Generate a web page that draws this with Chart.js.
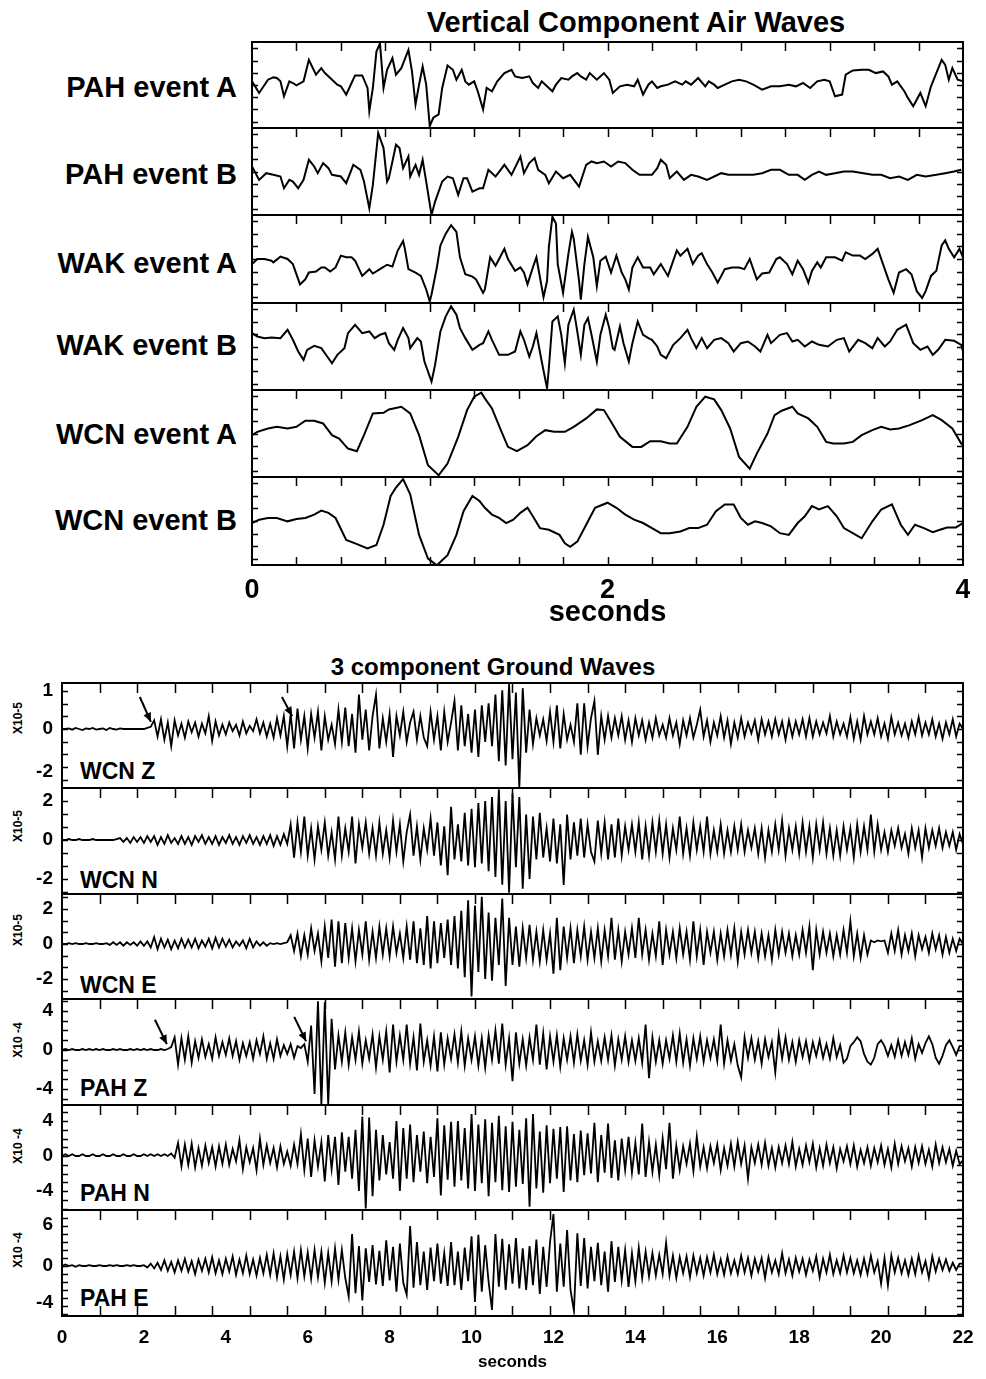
<!DOCTYPE html>
<html>
<head>
<meta charset="utf-8">
<script src="https://cdn.jsdelivr.net/npm/chart.js@4.4.0/dist/chart.umd.min.js"></script>
<style>
body { margin: 0; background: #fff; }
#page { position: relative; width: 986px; height: 1379px; background: #fff; overflow: hidden;
        font-family: 'Liberation Sans', Arial, Helvetica, sans-serif; font-weight: bold; color: #000; }
#page canvas { position: absolute; }
.t { position: absolute; white-space: nowrap; line-height: 1; }
.big { font-size: 29px; }
.name { font-size: 29px; right: 749px; }
.gname { font-size: 23px; left: 80px; }
.mult { font-size: 12px; left: 18px; transform: translate(-50%, -50%) rotate(-90deg); }
</style>
</head>
<body>
<div id="page">
  <div class="t big" style="left:636px;top:8px;transform:translateX(-50%)">Vertical Component Air Waves</div>
  <div class="t name" style="top:73px">PAH event A</div>
  <div class="t name" style="top:160px">PAH event B</div>
  <div class="t name" style="top:249px">WAK event A</div>
  <div class="t name" style="top:331px">WAK event B</div>
  <div class="t name" style="top:420px">WCN event A</div>
  <div class="t name" style="top:506px">WCN event B</div>

  <div class="t" style="font-size:24px;left:493px;top:655px;transform:translateX(-50%)">3 component Ground Waves</div>
  <div class="t gname" style="top:760px">WCN Z</div>
  <div class="t gname" style="top:869px">WCN N</div>
  <div class="t gname" style="top:974px">WCN E</div>
  <div class="t gname" style="top:1077px">PAH Z</div>
  <div class="t gname" style="top:1182px">PAH N</div>
  <div class="t gname" style="top:1287px">PAH E</div>
  <div class="t mult" style="top:718px">X10-5</div>
  <div class="t mult" style="top:826px">X10-5</div>
  <div class="t mult" style="top:930px">X10-5</div>
  <div class="t mult" style="top:1040px">X10 -4</div>
  <div class="t mult" style="top:1146px">X10 -4</div>
  <div class="t mult" style="top:1250px">X10 -4</div>
</div>
<script>
// ---------- air waves (time in s, amplitude in relative counts) ----------
const pahA_t = [0.00,0.04,0.09,0.12,0.14,0.16,0.18,0.21,0.23,0.25,0.29,0.32,0.36,0.39,0.41,0.44,0.48,0.50,0.53,0.56,0.58,0.62,0.65,0.66,0.68,0.70,0.72,0.74,0.76,0.79,0.81,0.84,0.88,0.90,0.92,0.94,0.96,0.98,1.00,1.02,1.05,1.07,1.10,1.13,1.15,1.18,1.20,1.22,1.25,1.27,1.30,1.32,1.35,1.38,1.42,1.46,1.48,1.52,1.56,1.58,1.61,1.63,1.69,1.71,1.74,1.78,1.80,1.83,1.85,1.88,1.90,1.94,1.98,2.01,2.03,2.07,2.11,2.15,2.17,2.20,2.23,2.25,2.28,2.30,2.34,2.38,2.42,2.44,2.47,2.51,2.55,2.57,2.60,2.62,2.66,2.70,2.74,2.78,2.82,2.87,2.92,2.97,3.02,3.06,3.10,3.14,3.18,3.22,3.25,3.28,3.32,3.34,3.38,3.43,3.47,3.51,3.55,3.58,3.60,3.63,3.67,3.69,3.72,3.76,3.79,3.82,3.85,3.88,3.90,3.92,3.94,3.97,4.00];
const pahA_v = [11,-24,16,23,21,11,-34,11,6,-1,11,76,31,51,36,21,1,-4,-29,6,29,29,-9,-79,-9,101,126,-9,46,81,31,51,106,41,-59,1,56,1,-124,-99,-89,-9,59,46,16,46,11,1,11,-19,-74,-9,-19,11,36,46,26,21,26,6,-9,11,-19,1,21,16,26,36,26,16,36,16,36,16,-24,-4,1,-4,16,-29,1,11,-9,-4,1,11,1,11,1,21,-4,11,1,-9,1,11,16,11,1,-14,-4,-4,1,-4,6,-9,11,16,11,-34,-29,31,44,46,46,36,41,26,1,11,-19,-39,-64,-24,-64,-4,36,76,61,16,51,16,11];

const pahB_t = [0.00,0.04,0.08,0.12,0.16,0.18,0.21,0.23,0.26,0.29,0.32,0.35,0.37,0.40,0.43,0.45,0.50,0.53,0.57,0.61,0.63,0.66,0.68,0.71,0.74,0.76,0.77,0.81,0.83,0.85,0.88,0.89,0.92,0.94,0.96,0.98,1.01,1.03,1.07,1.10,1.13,1.16,1.19,1.21,1.24,1.28,1.30,1.33,1.37,1.42,1.46,1.51,1.53,1.56,1.59,1.61,1.65,1.67,1.71,1.75,1.79,1.84,1.88,1.91,1.94,1.98,2.02,2.06,2.10,2.14,2.18,2.25,2.28,2.30,2.33,2.35,2.39,2.43,2.47,2.51,2.56,2.60,2.64,2.68,2.71,2.77,2.82,2.87,2.92,2.97,3.02,3.07,3.11,3.15,3.19,3.23,3.28,3.33,3.38,3.44,3.49,3.54,3.59,3.64,3.69,3.74,3.79,3.85,3.90,3.95,3.99];
const pahB_v = [15,-25,-5,-10,-15,-50,-25,-30,-50,-25,35,15,-5,25,10,-10,-15,-35,20,5,-30,-110,-40,115,70,-30,-20,80,70,10,45,-15,20,-10,35,-30,-130,-90,-30,-15,-20,-70,-20,-20,-60,-50,-50,5,-15,20,-10,45,-5,25,40,5,-10,-35,0,-20,-10,-45,20,30,25,30,15,30,25,5,-10,-10,10,35,20,-20,0,-25,-10,-15,-25,-15,-5,-10,-10,-10,-10,-5,5,5,-10,-10,-25,-10,0,-10,-5,0,0,-5,-10,-10,-20,-15,-25,-10,-15,-10,-5,0,5];

const wakA_t = [0.00,0.03,0.07,0.11,0.12,0.16,0.20,0.23,0.27,0.30,0.32,0.36,0.39,0.41,0.44,0.47,0.50,0.53,0.56,0.58,0.62,0.66,0.68,0.72,0.76,0.79,0.82,0.85,0.86,0.88,0.92,0.95,0.98,1.00,1.01,1.04,1.06,1.09,1.12,1.15,1.17,1.20,1.24,1.26,1.28,1.30,1.31,1.34,1.37,1.39,1.42,1.44,1.48,1.51,1.53,1.55,1.58,1.60,1.61,1.64,1.66,1.67,1.69,1.71,1.72,1.75,1.78,1.80,1.81,1.84,1.85,1.87,1.89,1.92,1.94,1.96,1.99,2.02,2.05,2.08,2.10,2.12,2.14,2.17,2.20,2.24,2.26,2.30,2.34,2.35,2.39,2.41,2.45,2.48,2.51,2.53,2.56,2.59,2.62,2.66,2.70,2.74,2.77,2.80,2.84,2.87,2.91,2.95,2.97,3.01,3.04,3.07,3.10,3.13,3.15,3.18,3.20,3.23,3.28,3.32,3.34,3.38,3.42,3.45,3.49,3.52,3.55,3.58,3.61,3.64,3.68,3.71,3.74,3.77,3.79,3.82,3.85,3.88,3.90,3.92,3.95,3.98,4.00];
const wakA_v = [-15,0,0,-5,-10,7,0,-15,-75,-60,-40,-37,-25,-25,-37,-25,10,5,5,-5,-50,-30,-43,-30,-17,-22,25,53,30,-30,-40,-50,-90,-125,-105,-25,40,75,100,80,5,-45,-52,-60,-80,-100,-90,5,-20,0,30,0,-35,-25,-40,-75,-25,5,-25,-113,-65,35,125,105,-15,-100,15,80,60,-65,-120,-15,65,5,-80,-5,7,-40,10,-40,-60,-90,-25,5,-25,-25,-45,-15,-50,-35,25,10,30,-15,10,17,-15,-40,-70,-30,-25,-25,-30,0,-60,-43,-40,0,5,-15,-45,-5,-30,-70,-35,-10,-25,5,5,-5,20,10,10,0,15,30,-15,-60,-100,-40,-30,-45,-95,-115,-95,-50,-35,40,55,30,5,30,5];

const wakB_t = [0.00,0.03,0.07,0.11,0.16,0.20,0.23,0.26,0.29,0.31,0.35,0.39,0.43,0.45,0.48,0.52,0.54,0.58,0.62,0.66,0.69,0.72,0.75,0.77,0.80,0.82,0.85,0.88,0.89,0.93,0.95,0.97,1.01,1.03,1.06,1.09,1.12,1.15,1.17,1.20,1.24,1.28,1.30,1.33,1.35,1.39,1.44,1.48,1.51,1.53,1.56,1.58,1.60,1.63,1.66,1.67,1.69,1.72,1.74,1.76,1.78,1.81,1.83,1.85,1.87,1.89,1.91,1.94,1.96,1.99,2.01,2.03,2.04,2.07,2.09,2.12,2.14,2.17,2.20,2.23,2.25,2.28,2.30,2.33,2.37,2.41,2.45,2.47,2.50,2.53,2.56,2.60,2.64,2.68,2.71,2.75,2.79,2.83,2.86,2.90,2.92,2.97,3.01,3.04,3.07,3.11,3.15,3.19,3.24,3.29,3.33,3.36,3.41,3.45,3.49,3.52,3.56,3.59,3.63,3.68,3.72,3.76,3.80,3.83,3.86,3.90,3.95,3.99,4.00];
const wakB_v = [40,30,25,27,25,50,20,-15,-40,-10,2,-5,-35,-50,-25,-5,40,65,40,45,25,35,40,10,-10,20,55,25,-5,25,15,-45,-105,-55,45,90,120,95,55,25,-10,5,10,45,20,-25,-25,-15,45,20,-30,0,40,-45,-125,-65,75,90,35,-50,65,110,45,-25,65,85,35,-45,35,95,55,-5,-10,60,10,-45,10,75,35,25,20,0,-25,-35,5,25,50,25,-5,25,-5,20,25,10,-15,10,15,0,-15,35,10,35,40,15,20,0,15,5,0,20,25,-15,20,10,-5,25,0,15,50,65,10,-10,0,-25,-10,20,17,5,-15];

const wcnA_t = [0.00,0.03,0.09,0.14,0.20,0.25,0.30,0.35,0.40,0.45,0.49,0.54,0.59,0.63,0.68,0.74,0.77,0.84,0.89,0.94,0.99,1.05,1.10,1.16,1.21,1.25,1.29,1.31,1.35,1.40,1.44,1.49,1.55,1.60,1.65,1.70,1.76,1.81,1.88,1.94,1.98,2.02,2.07,2.14,2.19,2.24,2.30,2.35,2.39,2.45,2.50,2.55,2.60,2.64,2.69,2.74,2.80,2.84,2.90,2.94,2.98,3.04,3.07,3.13,3.18,3.23,3.27,3.33,3.38,3.43,3.49,3.54,3.59,3.64,3.70,3.77,3.83,3.88,3.94,3.99,4.00];
const wcnA_v = [-5,5,15,20,15,20,38,38,30,-5,-15,-45,-53,-5,60,62,72,80,60,-5,-95,-125,-90,-10,70,110,122,105,75,10,-40,-53,-35,-8,10,5,5,20,45,72,70,35,-10,-40,-40,-23,-23,-30,-30,20,80,110,102,70,15,-70,-105,-60,0,55,68,80,60,45,20,-25,-30,-30,-25,-5,10,20,12,15,25,40,55,40,15,-30,-35];

const wcnB_t = [0.00,0.04,0.09,0.14,0.20,0.25,0.30,0.35,0.39,0.43,0.47,0.53,0.58,0.65,0.70,0.74,0.78,0.81,0.85,0.89,0.94,0.99,1.04,1.10,1.15,1.19,1.24,1.28,1.31,1.35,1.39,1.43,1.47,1.51,1.55,1.58,1.62,1.67,1.73,1.76,1.79,1.83,1.88,1.93,2.00,2.05,2.10,2.15,2.20,2.25,2.30,2.35,2.41,2.46,2.51,2.56,2.61,2.66,2.71,2.75,2.79,2.83,2.87,2.92,2.97,3.02,3.07,3.11,3.15,3.19,3.24,3.29,3.33,3.38,3.43,3.49,3.54,3.60,3.65,3.69,3.73,3.78,3.83,3.87,3.91,3.96,4.00];
const wcnB_v = [-6,4,9,9,-1,6,9,19,31,24,9,-56,-66,-81,-71,-11,74,99,124,79,-41,-111,-131,-101,-41,29,74,59,39,19,9,-6,4,24,39,14,-21,-26,-41,-66,-76,-61,-11,39,54,39,19,4,-6,-21,-36,-36,-31,-21,-21,-11,29,49,49,9,-11,-1,-6,-16,-36,-41,-6,14,44,34,44,14,-21,-36,-51,-1,34,49,-11,-41,-11,-21,-33,-26,-19,-19,-6];

const airTicks = [0, 2, 4];

// ---------- ground waves, 12 samples per second from 0 to 22 s ----------
const groundDt = 1 / 12;
const wcnZ = [
  0,0,0.03,-0.03,0.05,0,-0.05,0.03,0,0.05,-0.03,0,
  0.03,-0.05,0.05,0,-0.03,0.03,0,0,0,0,0,0,
  0,0.05,0.1,0.4,-0.35,0.45,-0.5,0.3,-0.8,0.4,-0.3,0.25,
  -0.4,0.35,-0.15,0.3,-0.35,0.25,-0.2,0.6,-0.55,0.35,-0.3,0.2,
  -0.25,0.3,-0.1,0.2,-0.3,0.35,-0.2,0.15,-0.1,0.45,-0.2,0.3,
  -0.35,0.25,-0.4,0.5,-0.3,0.6,-0.8,0.7,-0.9,0.95,-0.5,0.6,
  -0.9,0.7,-0.4,0.8,-1.0,0.6,-0.5,0.2,-0.7,0.9,-0.6,1.0,
  -0.8,0.7,-1.1,1.6,-0.5,0.9,-1.0,0.6,1.6,-0.9,0.5,-0.6,
  0.7,-1.3,0.6,-0.3,0.8,-0.6,0.3,0.8,-0.5,0.6,-0.4,-0.8,
  0.8,-0.5,0.6,-1.0,0.8,-0.6,0.3,1.3,-1.0,1.1,-0.8,0.7,
  -1.1,0.9,-1.3,1.1,-0.6,1.2,-0.8,1.6,-1.5,1.8,-1.7,2.1,
  -1.4,1.7,-2.74,1.9,-1.1,0.9,-0.7,0.5,-0.3,0.45,-0.55,0.8,
  -0.6,1.1,-0.9,0.7,-0.5,0.2,-0.6,1.2,-1.2,1.2,-0.8,0.5,
  1.3,-1.2,0.6,-0.5,0.6,-0.4,0.5,-0.3,0.6,-0.5,0.4,-0.6,
  0.5,-0.3,0.4,-0.5,0.3,-0.4,0.5,-0.3,0.2,-0.4,0.5,-0.3,
  0.3,-0.7,0.4,-0.3,0.5,-0.4,0.2,0.9,-0.35,0.4,-0.6,0.3,
  -0.3,0.6,-0.4,0.4,-0.7,0.3,-0.4,0.5,-0.35,0.3,-0.2,0.4,
  -0.5,0.45,-0.25,0.35,-0.35,0.45,-0.25,0.35,-0.5,0.4,-0.35,0.35,
  -0.25,0.45,-0.35,0.5,-0.35,0.35,-0.25,0.3,-0.2,0.6,-0.35,0.35,
  -0.25,0.25,-0.35,0.55,-0.45,0.35,-0.5,0.6,-0.25,0.35,-0.25,0.5,
  -0.35,0.25,-0.45,0.55,-0.25,0.3,-0.3,0.25,-0.4,0.35,-0.25,0.55,
  -0.3,0.3,-0.25,0.45,-0.35,0.25,-0.45,0.3,-0.25,0.45,-0.35,0.25,
  0
];
const wcnN = [
  0,0,0.05,0,0,0.05,0,0,0,0.05,0,0,
  0,0,0,0,0.05,0.1,-0.1,0.1,-0.15,0.15,-0.1,0.15,
  -0.15,0.2,-0.1,0.2,-0.25,0.15,-0.2,0.25,-0.15,0.1,-0.2,0.2,
  -0.2,0.15,-0.25,0.2,-0.1,0.25,-0.2,0.15,-0.2,0.2,-0.25,0.15,
  -0.15,0.25,-0.2,0.15,-0.25,0.2,-0.15,0.25,-0.2,0.15,-0.25,0.2,
  -0.2,0.25,-0.3,0.2,-0.25,0.3,-0.2,0.8,-0.9,0.9,-0.6,1.2,
  -0.8,0.6,-1.0,0.7,-0.5,0.9,-0.8,0.4,-1.0,1.2,-0.8,0.6,
  -0.6,1.2,-1.2,0.8,-0.4,0.9,-0.7,0.6,-0.8,0.9,-0.7,0.5,
  -0.9,1.0,-0.6,0.8,-1.1,0.4,1.3,-0.8,0.7,-1.0,0.6,-0.5,
  1.1,-0.8,0.9,-1.3,0.7,-1.8,1.7,-1.0,0.8,-1.1,1.4,-1.3,
  1.6,-1.4,1.9,-1.2,2.0,-1.6,2.2,-1.9,2.6,-2.3,2.0,-2.7,
  2.4,-1.4,2.2,-2.5,1.3,-2.0,1.2,-1.0,1.4,-0.9,0.6,-1.1,
  1.1,-1.2,0.8,-2.3,1.3,-1.0,0.9,-0.8,1.1,-0.9,0.8,-0.6,
  -1.1,1.0,-0.7,0.9,-1.0,0.8,-0.9,1.1,-0.8,0.7,-0.5,0.8,
  -0.6,0.9,-1.0,0.7,-0.8,0.9,-0.6,1.0,-0.7,0.8,-0.9,0.6,
  -0.5,1.2,-0.7,0.6,-0.8,0.9,-0.5,0.7,-0.6,1.2,-0.7,0.5,
  -0.6,0.8,-0.7,0.5,-0.6,0.7,-0.5,0.8,-0.6,0.5,-0.4,0.6,
  -0.7,0.6,-0.9,0.5,-0.6,0.8,-0.5,1.0,-0.8,0.6,-0.5,0.7,
  -0.7,0.9,-0.6,0.7,-0.9,0.8,-0.5,0.9,-0.7,0.6,-0.8,0.5,
  -0.8,0.7,-0.5,0.6,-0.9,0.8,-0.6,0.7,-0.5,1.3,-0.6,0.8,
  -0.5,0.4,-0.6,0.5,-0.3,0.6,-0.4,0.3,-0.7,0.6,-0.4,0.5,
  -0.9,0.6,-0.4,0.5,-0.3,0.6,-0.4,0.4,-0.3,0.4,-0.5,0.3,
  -0.2
];
const wcnE = [
  0,0,0.05,0,0.05,0,0,0.05,0,0,0.05,0,
  0,0.05,-0.05,0.1,-0.05,0.1,-0.1,0.1,-0.05,0.1,-0.1,0.15,
  -0.1,0.15,-0.2,0.4,-0.3,0.3,-0.2,0.25,-0.3,0.2,-0.25,0.3,
  -0.2,0.25,-0.2,0.3,-0.25,0.2,-0.15,0.3,-0.25,0.35,-0.2,0.3,
  -0.15,0.25,-0.2,0.15,-0.1,0.2,-0.25,0.3,-0.2,0.15,-0.1,0.1,
  -0.1,0.05,0,0.05,0,0.05,0.1,0.5,-0.4,0.6,-0.7,0.5,
  -0.6,0.9,-0.4,0.6,-1.0,1.0,-0.8,1.4,-1.3,1.3,-1.1,1.2,
  -0.8,0.9,-1.0,0.8,-0.6,1.3,-0.9,0.7,-0.8,1.0,-0.6,0.9,
  -0.7,1.0,-0.5,0.6,-0.8,1.0,-0.9,1.3,-1.1,0.9,-1.2,1.6,
  -1.4,1.3,-1.1,1.2,-0.8,1.4,-1.2,1.6,-1.4,1.9,-1.9,2.5,
  -3.0,2.2,-1.6,2.7,-2.0,1.8,-2.1,1.5,-1.2,2.6,-2.4,1.5,
  -1.2,1.0,-1.3,0.9,-0.8,1.1,-0.9,0.7,-1.0,0.8,-0.9,0.6,
  -1.7,1.5,-1.5,1.0,-0.8,0.9,-1.1,0.8,-0.7,1.0,-0.9,0.7,
  -0.8,0.9,-1.0,0.8,-0.7,1.5,-0.9,0.8,-1.0,0.7,-0.6,0.9,
  -0.8,1.5,-0.6,0.8,-0.9,0.6,-0.7,1.3,-1.2,0.8,-0.6,0.7,
  -0.8,0.9,-0.6,0.7,-0.9,1.3,-0.7,0.8,-1.2,0.7,-0.5,0.7,
  -0.9,0.6,-0.7,0.8,-0.6,0.9,-1.0,0.7,-0.6,0.8,-0.5,0.7,
  -0.8,0.6,-0.7,0.5,-0.9,0.8,-0.6,0.7,-0.5,0.6,-0.7,0.5,
  -0.6,0.8,-0.5,1.0,-1.5,0.8,-0.6,0.7,-0.5,0.6,-0.7,0.5,
  -0.6,0.8,-0.5,1.3,-0.7,0.6,-0.8,0.5,-0.6,0.2,0.1,0.2,
  0.15,0.2,-0.5,0.6,-0.4,0.8,-0.6,0.5,-0.4,0.6,-0.7,0.5,
  -0.3,0.4,-0.5,0.6,-0.3,0.5,-0.6,0.4,-0.5,0.3,-0.4,0.3,
  0
];
const pahZ = [
  0,0.1,0,0.1,0,0,0.1,0,0.1,0,0.1,0,
  0.1,0,0,0.1,0,0.1,0,0,0.1,0,0.1,0,
  0.1,0,0.1,0,0,0.1,0,0.1,0.3,1.3,-1.5,1.2,
  -1.0,1.4,-1.3,0.9,-0.8,1.1,-0.7,0.6,-0.9,1.3,-0.6,0.8,
  -0.5,1.2,-0.6,0.9,-1.0,0.7,-0.6,0.8,-0.9,1.0,-0.4,1.4,
  -0.9,0.7,-0.9,1.1,-0.6,0.5,-0.4,0.6,-0.8,0.4,0.2,0.6,
  -1.2,2.5,-4.5,5.0,-5.6,4.9,-5.6,3.2,-2.0,1.5,-1.2,1.8,
  -1.5,1.3,-1.0,1.9,-1.4,1.0,-0.9,1.6,-1.8,1.4,-1.0,1.9,
  -2.3,2.6,-1.2,1.5,-1.0,2.6,-1.4,1.3,-2.1,2.7,-1.2,1.0,
  -1.6,1.4,-2.2,1.8,-1.5,1.2,-0.9,1.6,-1.3,1.9,-1.6,1.2,
  -1.0,1.4,-1.6,1.2,-1.8,1.5,-1.0,2.0,-1.4,2.7,-1.5,1.2,
  -3.2,1.8,-1.4,1.1,-1.6,1.3,-1.0,2.6,-1.5,1.7,-2.0,1.4,
  -1.2,1.5,-1.7,1.2,-1.0,1.4,-1.3,1.6,-1.1,1.0,-1.5,1.8,
  -1.2,0.9,-1.1,1.3,-1.0,1.5,-1.6,1.1,-1.0,1.4,-1.2,1.0,
  -1.1,1.2,-1.3,2.6,-2.9,1.3,-1.2,1.0,-1.4,1.0,-0.9,1.5,
  -1.2,1.7,-1.3,1.1,-1.6,1.2,-0.9,1.4,-1.2,1.0,-0.8,1.1,
  -1.1,2.6,-1.4,1.0,-1.1,0.6,-1.6,-2.8,1.3,-0.8,1.2,-1.0,
  0.9,-1.4,1.1,-0.7,0.8,-2.3,1.6,-0.9,1.3,-1.0,0.8,-1.2,
  1.0,-0.7,0.9,-1.1,0.8,-0.6,1.0,-0.8,0.6,-0.9,1.2,-0.7,
  0.5,-1.3,-0.9,0.4,0.8,1.3,0.9,-0.4,-1.2,-1.5,-0.8,0.6,
  1.0,0.4,-0.6,0.5,-0.7,1.0,-0.6,0.8,-0.5,1.2,-0.9,0.6,
  -0.3,0.7,1.4,0.6,-0.8,-1.4,-0.6,0.5,1.0,0.3,-0.5,0.4,
  0.4
];
const pahN = [
  0,0.2,0,0.2,0,0,0.2,0,0,0.2,0,0,
  0.2,0,0,0.2,0,0,0.2,0,0,0.2,0,0,
  0.2,0,0.2,0,0.2,0,0.2,0,0.3,-0.2,1.5,-1.2,
  1.3,-1.0,1.4,-1.3,0.9,-1.1,1.2,-0.8,1.0,-1.2,1.1,-0.9,
  1.3,-1.0,0.8,-0.6,1.8,-1.5,1.0,-0.7,0.9,-1.6,2.0,-1.0,
  1.2,-0.8,0.9,-1.3,1.1,-0.9,0.5,-1.1,1.3,-0.9,2.5,-1.6,
  2.0,-2.4,1.8,-1.2,1.6,-2.9,2.4,-1.5,2.2,-3.3,2.7,-1.8,
  2.2,-2.6,3.0,-4.0,4.5,-6.0,4.4,-4.6,3.0,-2.8,2.4,-2.1,
  1.6,-2.6,4.0,-4.0,3.2,-2.6,3.6,-3.0,2.4,-1.8,2.8,-3.1,
  2.2,-2.4,4.3,-4.5,3.5,-2.7,3.9,-3.5,4.0,-2.8,3.2,-3.7,
  4.8,-4.0,3.6,-3.1,4.2,-4.6,3.8,-3.0,4.6,-3.9,3.4,-4.1,
  3.9,-3.5,3.0,-3.2,4.3,-5.8,4.8,-3.7,2.8,-4.2,3.5,-3.1,
  3.1,-2.6,3.3,-4.1,3.4,-2.8,2.5,-3.0,2.9,-2.2,2.6,-2.0,
  3.8,-3.0,2.4,-1.9,3.7,-2.5,1.8,-2.8,2.0,-1.6,2.2,-1.9,
  1.5,-2.1,3.7,-2.4,1.6,-1.8,1.3,-2.2,2.0,-1.5,3.8,-2.6,
  1.2,-1.6,1.1,-0.9,1.4,-1.7,2.2,-1.2,1.0,-1.4,1.1,-0.8,
  1.3,-1.6,0.9,-1.1,1.4,-1.2,1.6,-0.9,1.2,-2.6,1.0,-0.8,
  1.3,-1.0,1.5,-1.1,0.9,-1.3,1.0,-0.8,1.2,-0.9,1.6,-1.2,
  0.8,-1.0,1.2,-0.7,1.4,-1.3,0.9,-1.1,1.3,-0.8,1.0,-1.4,
  0.8,-0.6,1.1,-0.9,1.2,-1.2,0.7,-0.8,1.0,-1.1,0.9,-0.7,
  1.2,-1.0,0.8,-1.3,1.4,-0.9,1.1,-0.6,0.9,-1.2,1.0,-0.8,
  1.1,-0.9,0.7,-1.2,1.3,-0.8,1.0,-0.7,0.8,-1.1,0.6,-0.9,
  -0.5
];
const pahE = [
  0,0.2,0,0.1,-0.1,0.1,0,0,0.1,0,0,0.1,
  0,0,0.1,0,0.1,0,0,0.1,0,0.1,0,0,
  0.1,-0.2,0.3,-0.3,0.4,-0.5,0.7,-0.6,0.5,-0.8,0.7,-0.6,
  0.9,-0.7,0.6,-1.0,0.8,-0.6,0.9,-0.8,1.1,-0.9,0.7,-1.0,
  0.9,-0.7,1.2,-1.1,0.8,-0.9,1.3,-1.0,0.8,-1.2,1.0,-0.9,
  1.4,-1.1,1.6,-1.4,1.2,-1.7,1.5,-1.1,1.8,-1.5,2.0,-1.3,
  1.7,-1.6,2.0,-1.4,1.8,-2.1,1.6,-1.9,2.2,-1.7,2.0,-1.5,
  -3.8,4.0,-3.4,2.5,-4.3,2.2,-2.0,2.6,-2.3,1.9,-2.5,3.2,
  -1.8,2.4,-3.2,2.8,-2.1,-3.6,5.0,-2.7,3.0,-2.4,1.8,-3.0,
  2.3,-1.9,2.8,-2.2,1.6,-2.5,3.0,-2.4,1.8,-3.0,2.3,-1.9,
  3.7,-4.5,3.9,-3.2,2.6,-2.0,-5.5,4.0,-2.6,3.4,-3.0,2.7,
  -2.2,3.5,-2.8,2.2,-3.0,2.5,-2.4,3.3,-3.5,2.4,-2.6,3.0,
  6.5,-3.2,2.8,-2.6,4.5,-3.0,-5.6,4.1,-2.5,3.5,-2.8,2.4,
  -1.9,2.9,-2.4,1.8,-3.2,3.1,-2.0,2.4,-1.8,2.0,-2.6,1.6,
  -1.9,2.3,-1.5,1.8,-1.3,1.6,-1.2,1.4,-1.0,2.9,-1.2,1.3,
  -1.5,1.1,-0.9,1.2,-1.4,1.3,-0.9,1.0,-1.2,1.1,-0.8,1.4,
  -1.0,0.8,-1.1,1.2,-0.9,0.7,-1.0,1.3,-0.8,1.0,-1.2,0.9,
  -0.7,1.0,-1.5,1.1,-0.8,0.7,-1.0,1.6,-0.9,0.8,-1.2,1.0,
  -0.7,0.9,-1.1,0.8,-0.6,1.2,-1.4,0.9,-0.8,1.4,-1.0,0.7,
  -0.9,1.3,-0.8,1.0,-0.9,0.7,-1.1,0.9,-1.0,1.3,-0.8,0.6,
  -2.2,1.0,-2.4,1.3,-0.8,1.0,-0.9,0.7,-1.1,0.9,-1.0,1.3,
  -0.8,0.6,-1.5,1.2,-0.7,0.9,-0.5,0.8,-0.6,0.4,-0.5,0.3,
  0.3
];
const groundTicks = [0,2,4,6,8,10,12,14,16,18,20,22];

// y-axis labels of the ground panels, placed where the original plot prints them
const yTickVals = [[1.8,0,-2],[2,0,-2],[2,0,-2],[4,0,-4],[4,0,-4],[5.1,0,-4.6]];
const yTickText = [['1','0','-2'],['2','0','-2'],['2','0','-2'],['4','0','-4'],['4','0','-4'],['6','0','-4']];

// arrows marking the arrivals (time, amplitude)
const wcnZArrows = [{x1: 1.9, y1: 1.49, x2: 2.17, y2: 0.33}, {x1: 5.37, y1: 1.49, x2: 5.62, y2: 0.6}];
const pahZArrows = [{x1: 2.27, y1: 3.1, x2: 2.56, y2: 0.6}, {x1: 5.67, y1: 3.4, x2: 5.96, y2: 0.9}];

Chart.defaults.font.family = "'Liberation Sans', Arial, sans-serif";
Chart.defaults.font.weight = 'bold';
Chart.defaults.color = '#000';

// frame, inward tick marks and arrows
const frameTicks = {
  id: 'frameTicks',
  afterDatasetsDraw(chart, args, o) {
    const { ctx, chartArea: a } = chart;
    const xs = chart.scales.x, ys = chart.scales.y;
    ctx.save();
    ctx.strokeStyle = '#000';
    ctx.fillStyle = '#000';
    ctx.lineWidth = 1.5;
    ctx.beginPath();
    if (o.xStep) {
      for (let v = xs.min + o.xStep; v < xs.max - 1e-6; v += o.xStep) {
        const px = Math.round(xs.getPixelForValue(v)) + 0.5;
        if (o.topLen) { ctx.moveTo(px, a.top); ctx.lineTo(px, a.top + o.topLen); }
        if (o.bottomLen) { ctx.moveTo(px, a.bottom); ctx.lineTo(px, a.bottom - o.bottomLen); }
      }
    }
    if (o.yStep) {
      for (let v = Math.ceil(ys.min / o.yStep) * o.yStep; v < ys.max; v += o.yStep) {
        if (v <= ys.min) continue;
        const py = Math.round(ys.getPixelForValue(v)) + 0.5;
        ctx.moveTo(a.left, py); ctx.lineTo(a.left + o.yLen, py);
        ctx.moveTo(a.right, py); ctx.lineTo(a.right - o.yLen, py);
      }
    }
    ctx.stroke();
    ctx.lineWidth = 2;
    ctx.strokeRect(a.left, a.top, a.right - a.left, a.bottom - a.top);
    (o.arrows || []).forEach(ar => {
      const x1 = xs.getPixelForValue(ar.x1), y1 = ys.getPixelForValue(ar.y1);
      const x2 = xs.getPixelForValue(ar.x2), y2 = ys.getPixelForValue(ar.y2);
      const ang = Math.atan2(y2 - y1, x2 - x1), L = 9, W = 4;
      ctx.lineWidth = 2;
      ctx.beginPath(); ctx.moveTo(x1, y1); ctx.lineTo(x2, y2); ctx.stroke();
      ctx.beginPath();
      ctx.moveTo(x2, y2);
      ctx.lineTo(x2 - L * Math.cos(ang) + W * Math.sin(ang), y2 - L * Math.sin(ang) - W * Math.cos(ang));
      ctx.lineTo(x2 - L * Math.cos(ang) - W * Math.sin(ang), y2 - L * Math.sin(ang) + W * Math.cos(ang));
      ctx.closePath(); ctx.fill();
    });
    ctx.restore();
  }
};
Chart.register(frameTicks);

const page = document.getElementById('page');

function pairPoints(ts, vs) {
  const n = Math.min(ts.length, vs.length);
  return vs.slice(0, n).map((v, i) => ({ x: ts[i], y: v }));
}
function samplePoints(vs) {
  return vs.map((v, i) => ({ x: i * groundDt, y: v }));
}

function makeChart(c) {
  const cv = document.createElement('canvas');
  cv.width = c.w; cv.height = c.h;
  cv.style.left = c.left + 'px'; cv.style.top = c.top + 'px';
  cv.style.width = c.w + 'px'; cv.style.height = c.h + 'px';
  page.appendChild(cv);
  new Chart(cv, {
    type: 'line',
    data: { datasets: [{ data: c.points, borderColor: '#000', borderWidth: c.lw,
                         pointRadius: 0, tension: 0, fill: false }] },
    options: {
      responsive: false, animation: false, devicePixelRatio: 1, events: [],
      layout: { padding: c.pad },
      plugins: { legend: { display: false }, tooltip: { enabled: false }, frameTicks: c.ticks },
      scales: { x: c.x, y: c.y }
    }
  });
}

function bottomAxis(min, max, vals, tickSize, title, titleSize, pad, titlePad, h) {
  return {
    type: 'linear', min: min, max: max, position: 'bottom',
    grid: { display: false, drawTicks: false }, border: { display: false },
    afterBuildTicks: s => { s.ticks = vals.map(v => ({ value: v })); },
    ticks: { padding: pad, autoSkip: false, maxRotation: 0, font: { size: tickSize, weight: 'bold' }, color: '#000',
             callback: v => String(v) },
    title: { display: true, text: title, color: '#000', font: { size: titleSize, weight: 'bold' },
             padding: { top: 0, bottom: titlePad } },
    afterFit: s => { s.height = h; s.paddingLeft = 0; s.paddingRight = 0; }
  };
}

// ---------- air wave panels ----------
const airRows = [42, 128, 215, 303, 390, 477, 565];
const airSeries = [[pahA_t, pahA_v], [pahB_t, pahB_v], [wakA_t, wakA_v], [wakB_t, wakB_v], [wcnA_t, wcnA_v], [wcnB_t, wcnB_v]];
airSeries.forEach((s, i) => {
  const top = airRows[i], bottom = airRows[i + 1];
  const last = i === airSeries.length - 1;
  const h = last ? 632 - (top - 4) : (bottom - top) + 8;
  makeChart({
    left: 240, top: top - 4, w: 730, h: h, lw: 2,
    pad: { left: 12, right: 7, top: 4, bottom: last ? 0 : 4 },
    points: pairPoints(s[0], s[1]),
    x: last ? bottomAxis(0, 4, airTicks, 27, 'seconds', 29, 9, 2, 67)
            : { type: 'linear', min: 0, max: 4, display: false },
    y: { type: 'linear', min: -130, max: 130, display: false },
    ticks: { xStep: 0.25, topLen: 9, bottomLen: last ? 8 : 0, yStep: 37, yLen: 6 }
  });
});

// ---------- ground wave panels ----------
const groundRows = [683, 788, 894, 999, 1105, 1210, 1316];
const groundSeries = [wcnZ, wcnN, wcnE, pahZ, pahN, pahE];
const groundRange = [[-2.744, 2.14], [-2.77, 2.667], [-3.143, 2.857], [-5.64, 5.23], [-6.17, 5.83], [-6.25, 7.0]];
const groundYStep = [0.59, 0.667, 0.667, 1, 1, 1];
const groundArrows = [wcnZArrows, [], [], pahZArrows, [], []];
groundSeries.forEach((vals, i) => {
  const top = groundRows[i], bottom = groundRows[i + 1];
  const last = i === groundSeries.length - 1;
  const h = last ? 1379 - (top - 14) : (bottom - top) + 28;
  makeChart({
    left: 8, top: top - 14, w: 969, h: h, lw: 1.8,
    pad: { left: 0, right: 14, top: 14, bottom: last ? 0 : 14 },
    points: samplePoints(vals),
    x: last ? bottomAxis(0, 22, groundTicks, 19, 'seconds', 17, 10, 6, 63)
            : { type: 'linear', min: 0, max: 22, display: false },
    y: {
      type: 'linear', min: groundRange[i][0], max: groundRange[i][1], position: 'left',
      grid: { display: false, drawTicks: false }, border: { display: false },
      afterBuildTicks: s => { s.ticks = yTickVals[i].map(v => ({ value: v })); },
      ticks: { padding: 9, autoSkip: false, font: { size: 19, weight: 'bold' }, color: '#000',
               callback: (v, k) => yTickText[i][k] },
      afterFit: s => { s.width = 54; s.paddingTop = 0; s.paddingBottom = 0; }
    },
    ticks: { xStep: 22 / 24, topLen: 10, bottomLen: last ? 10 : 0, yStep: groundYStep[i], yLen: 6, arrows: groundArrows[i] }
  });
});
</script>
</body>
</html>
